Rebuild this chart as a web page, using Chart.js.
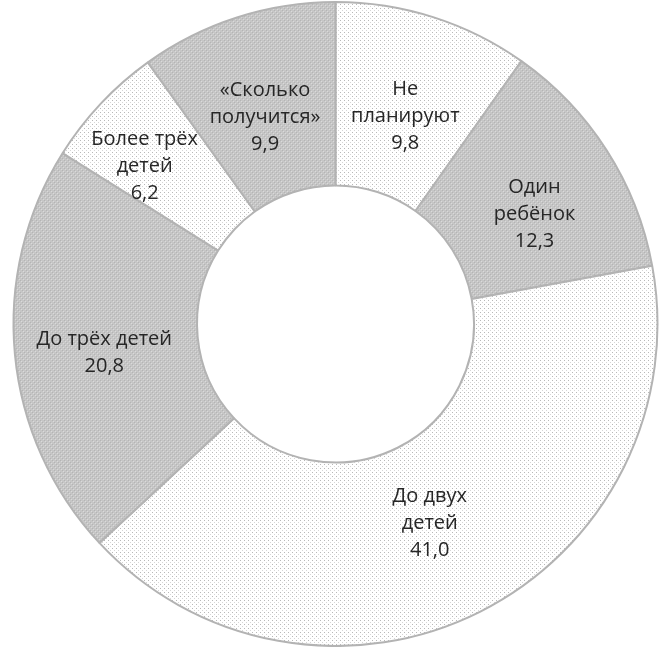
<!DOCTYPE html>
<html>
<head>
<meta charset="utf-8">
<script src="https://cdn.jsdelivr.net/npm/chart.js@4"></script>
<style>
  html, body { margin: 0; padding: 0; background: #ffffff; }
  #wrap { width: 667px; height: 647px; }
</style>
</head>
<body>
<div id="wrap"><canvas id="donut" width="667" height="647"></canvas></div>
<script>
// Data (percent)
const labels = [
    ["Не", "планируют"],
    ["Один", "ребёнок"],
    ["До двух", "детей"],
    ["До трёх детей"],
    ["Более трёх", "детей"],
    ["«Сколько", "получится»"]
];
const shares = [9.8, 12.3, 41.0, 20.8, 6.2, 9.9];

// light dotted fill vs. grey checker fill, alternating
function makePattern(dark) {
    const tile = document.createElement("canvas");
    tile.width = 4;
    tile.height = 4;
    const t = tile.getContext("2d");
    if (dark) {
        t.fillStyle = "#c6c6c6";
        t.fillRect(0, 0, 4, 4);
        t.fillStyle = "#b4b4b4";
        t.fillRect(0, 0, 1, 1);
        t.fillRect(2, 2, 1, 1);
        t.fillStyle = "#dadada";
        t.fillRect(1, 1, 1, 1);
        t.fillRect(3, 3, 1, 1);
    } else {
        t.fillStyle = "#ffffff";
        t.fillRect(0, 0, 4, 4);
        t.fillStyle = "#b8b8b8";
        t.fillRect(0, 0, 1, 1);
        t.fillStyle = "#d6d6d6";
        t.fillRect(2, 2, 1, 1);
    }
    return document.getElementById("donut").getContext("2d").createPattern(tile, "repeat");
}

const fills = shares.map((v, i) => makePattern(i % 2 === 1));

// small nudges for where the labels sit inside the ring
const labelNudge = [[0, 12], [5, 14], [-9, -6], [-2, 7], [-23, 0], [0, 12]];

// draws the label and value in the middle of each slice
const sliceLabels = {
    id: "sliceLabels",
    afterDatasetsDraw(chart) {
        const ctx = chart.ctx;
        const meta = chart.getDatasetMeta(0);
        ctx.save();
        ctx.font = "20px 'Open Sans', sans-serif";
        ctx.fillStyle = "#262626";
        ctx.textAlign = "center";
        ctx.textBaseline = "middle";
        meta.data.forEach((arc, i) => {
            const p = arc.getCenterPoint();
            const lines = labels[i].concat([shares[i].toFixed(1).replace(".", ",")]);
            const lh = 27;
            const x = p.x + labelNudge[i][0];
            const y0 = p.y + labelNudge[i][1] - (lines.length - 1) * lh / 2;
            lines.forEach((s, k) => ctx.fillText(s, x, y0 + k * lh));
        });
        ctx.restore();
    }
};

new Chart(document.getElementById("donut"), {
    type: "doughnut",
    data: {
        labels: labels.map(l => l.join(" ")),
        datasets: [{
            data: shares,
            backgroundColor: fills,
            borderColor: "#b3b3b3",
            borderWidth: 2
        }]
    },
    options: {
        responsive: false,
        animation: false,
        cutout: "43%",
        layout: { padding: { left: 4, right: 0, top: 1, bottom: 0 } },
        plugins: {
            legend: { display: false },
            tooltip: { enabled: false }
        }
    },
    plugins: [sliceLabels]
});
</script>
</body>
</html>
